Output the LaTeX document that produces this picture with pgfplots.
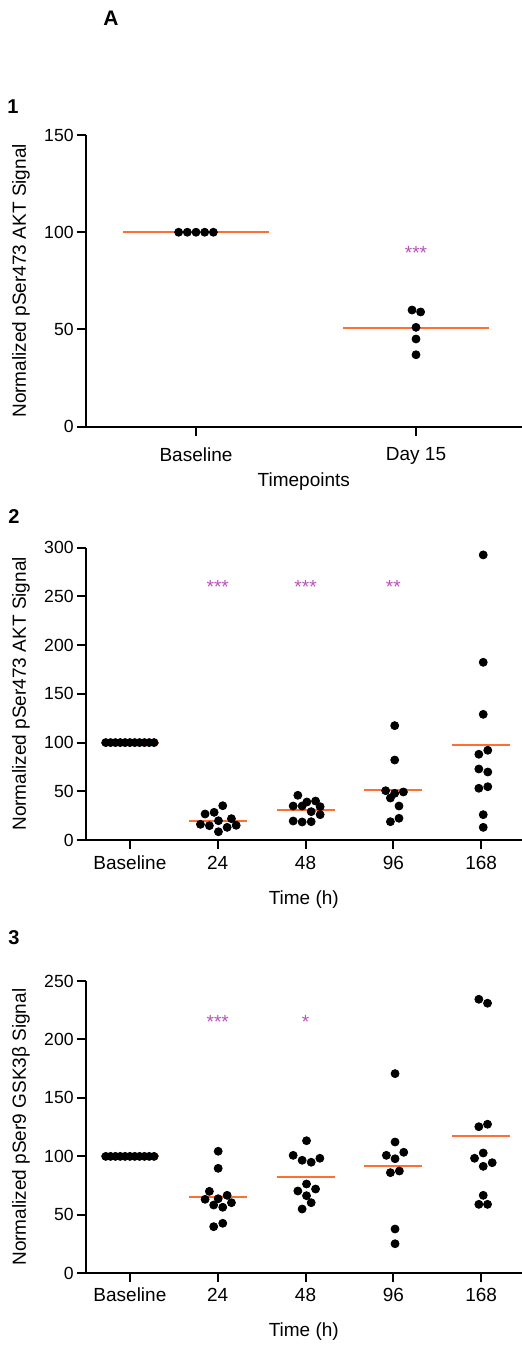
\documentclass[border=0pt]{standalone}
\usepackage{fontspec}
\setmainfont{Liberation Sans}
\usepackage{pgfplots}
\pgfplotsset{compat=1.18}
\definecolor{medline}{RGB}{255,110,50}
\definecolor{sig}{RGB}{186,80,186}
\pgfplotsset{
  dotplot/.style={
    scale only axis, width=217.8pt, clip=false,
    axis x line=bottom, axis y line=left,
    axis line style={-, line width=1pt},
    tick align=outside, major tick length=4.5pt,
    every tick/.style={black, line width=1pt},
    minor tick num=0,
    yticklabel style={font=\fontsize{8.8}{10}\selectfont, inner sep=1.5pt,
      /pgf/number format/assume math mode=true},
    xticklabel style={font=\fontsize{9.5}{11}\selectfont, anchor=north},
    ylabel style={font=\fontsize{9.5}{11}\selectfont, anchor=center},
    xlabel style={font=\fontsize{9.5}{11}\selectfont, anchor=center},
  },
  dots/.style={only marks, mark=*, mark size=2pt, black, mark options={fill=black, draw=black}},
  med/.style={no marks, medline, line width=1pt},
}
\tikzset{stars/.style={sig, font=\fontsize{9.5}{11}\selectfont, anchor=base}}
\begin{document}
\begin{tikzpicture}
\useasboundingbox (0,0) rectangle (261pt,-673.5pt);
\node[font=\bfseries\fontsize{10.5}{12}\selectfont] at (55.5pt,-9pt) {A};
\node[font=\bfseries\fontsize{10}{12}\selectfont] at (6.5pt,-53.25pt) {1};
\node[font=\bfseries\fontsize{10}{12}\selectfont] at (7pt,-258.5pt) {2};
\node[font=\bfseries\fontsize{10}{12}\selectfont] at (7pt,-469pt) {3};

% panel 1
\begin{axis}[dotplot, at={(43pt,-213.35pt)}, anchor=south west,
  height=145.85pt, xmin=-0.5, xmax=1.48, ymin=0, ymax=150,
  xtick={0,1}, xticklabels={Baseline, Day 15},
  xticklabel style={yshift=-2.5pt},
  ytick={0,50,100,150},
  ylabel={Normalized pSer473 AKT Signal},
  ylabel style={at={(axis description cs:-0.1492,0.5)}},
  xlabel={Timepoints},
  xlabel style={at={(axis description cs:0.5,-0.1886)}}]
\addplot[dots] coordinates {(-0.079,100) (-0.0395,100) (0,100) (0.0395,100) (0.079,100)
  (0.982,60) (1.021,59) (1,51.1) (1,45.1) (1,37)};
\addplot[med] coordinates {(-0.33,100) (0.33,100)};
\addplot[med] coordinates {(0.67,50.5) (1.33,50.5)};
\node[stars] at (axis cs:1,85.9) {***};
\end{axis}

% panel 2
\begin{axis}[dotplot, at={(43pt,-420pt)}, anchor=south west,
  height=146.15pt, xmin=-0.5, xmax=4.46, ymin=0, ymax=300,
  xtick={0,1,2,3,4}, xticklabels={Baseline, 24, 48, 96, 168},
  ytick={0,50,100,150,200,250,300},
  ylabel={Normalized pSer473 AKT Signal},
  ylabel style={at={(axis description cs:-0.1492,0.5)}},
  xlabel={Time (h)},
  xlabel style={at={(axis description cs:0.5,-0.2053)}}]
\addplot[dots] coordinates {(-0.275,100) (-0.22,100) (-0.165,100) (-0.11,100) (-0.055,100) (0,100)
  (0.055,100) (0.11,100) (0.165,100) (0.22,100) (0.275,100)};
\addplot[dots] coordinates {(1.057,35.2) (0.856,26.7) (0.959,28.4) (0.803,16.1) (0.905,14.7)
  (1.008,19.8) (1.008,8.5) (1.107,13.0) (1.156,21.9) (1.21,15.1)};
\addplot[dots] coordinates {(1.912,45.9) (1.859,34.9) (1.961,34.9) (2.015,39.0) (2.114,40.0)
  (2.166,34.2) (2.064,29.1) (2.166,26.0) (1.859,19.5) (1.961,18.5) (2.064,18.8)};
\addplot[dots] coordinates {(3.015,117.4) (3.015,82.1) (2.912,50.6) (3.015,47.9) (3.114,49.3)
  (2.966,43.1) (3.064,34.9) (3.064,22.3) (2.966,18.8)};
\addplot[dots] coordinates {(4.023,292.6) (4.023,182.4) (4.023,129.0) (4.075,92.1) (3.973,88.0)
  (3.973,72.9) (4.075,69.8) (3.973,53.1) (4.075,54.7) (4.023,26.0) (4.023,13.0)};
\addplot[med] coordinates {(-0.33,100) (0.33,100)};
\addplot[med] coordinates {(0.67,19.8) (1.33,19.8)};
\addplot[med] coordinates {(1.67,30.5) (2.33,30.5)};
\addplot[med] coordinates {(2.67,51.7) (3.33,51.7)};
\addplot[med] coordinates {(3.67,97.5) (4.33,97.5)};
\node[stars] at (axis cs:1,253.2) {***};
\node[stars] at (axis cs:2,253.2) {***};
\node[stars] at (axis cs:3,253.2) {**};
\end{axis}

% panel 3
\begin{axis}[dotplot, at={(43pt,-636.65pt)}, anchor=south west,
  height=146.15pt, xmin=-0.5, xmax=4.46, ymin=0, ymax=250,
  xtick={0,1,2,3,4}, xticklabels={Baseline, 24, 48, 96, 168},
  xticklabel style={yshift=0.75pt},
  ytick={0,50,100,150,200,250},
  ylabel={Normalized pSer9 GSK3β Signal},
  ylabel style={at={(axis description cs:-0.1492,0.5)}},
  xlabel={Time (h)},
  xlabel style={at={(axis description cs:0.5,-0.1998)}}]
\addplot[dots] coordinates {(-0.275,100) (-0.22,100) (-0.165,100) (-0.11,100) (-0.055,100) (0,100)
  (0.055,100) (0.11,100) (0.165,100) (0.22,100) (0.275,100)};
\addplot[dots] coordinates {(1.005,104.4) (1.005,89.8) (0.905,70.1) (0.856,63.3) (1.005,63.8)
  (1.107,66.7) (1.156,60.4) (0.954,58.4) (1.057,56.5) (0.954,39.9) (1.057,42.8)};
\addplot[dots] coordinates {(2.011,113.4) (1.859,100.9) (1.961,96.7) (2.064,95.0) (2.163,98.4)
  (2.011,76.4) (1.912,70.4) (2.114,72.1) (2.011,66.4) (2.064,60.4) (1.961,55.0)};
\addplot[dots] coordinates {(3.019,170.8) (3.019,112.3) (2.92,100.9) (3.019,98.0) (3.118,103.5)
  (2.966,86.1) (3.068,87.5) (3.019,37.9) (3.019,25.3)};
\addplot[dots] coordinates {(3.973,234.4) (4.072,231.0) (3.973,125.4) (4.072,127.5) (4.023,102.9)
  (3.924,98.4) (4.125,94.6) (4.023,91.5) (4.023,66.7) (3.973,59.0) (4.072,59.0)};
\addplot[med] coordinates {(-0.33,100) (0.33,100)};
\addplot[med] coordinates {(0.67,65.0) (1.33,65.0)};
\addplot[med] coordinates {(1.67,82.4) (2.33,82.4)};
\addplot[med] coordinates {(2.67,91.5) (3.33,91.5)};
\addplot[med] coordinates {(3.67,117.5) (4.33,117.5)};
\node[stars] at (axis cs:1,209.5) {***};
\node[stars] at (axis cs:2,209.5) {*};
\end{axis}
\end{tikzpicture}
\end{document}
